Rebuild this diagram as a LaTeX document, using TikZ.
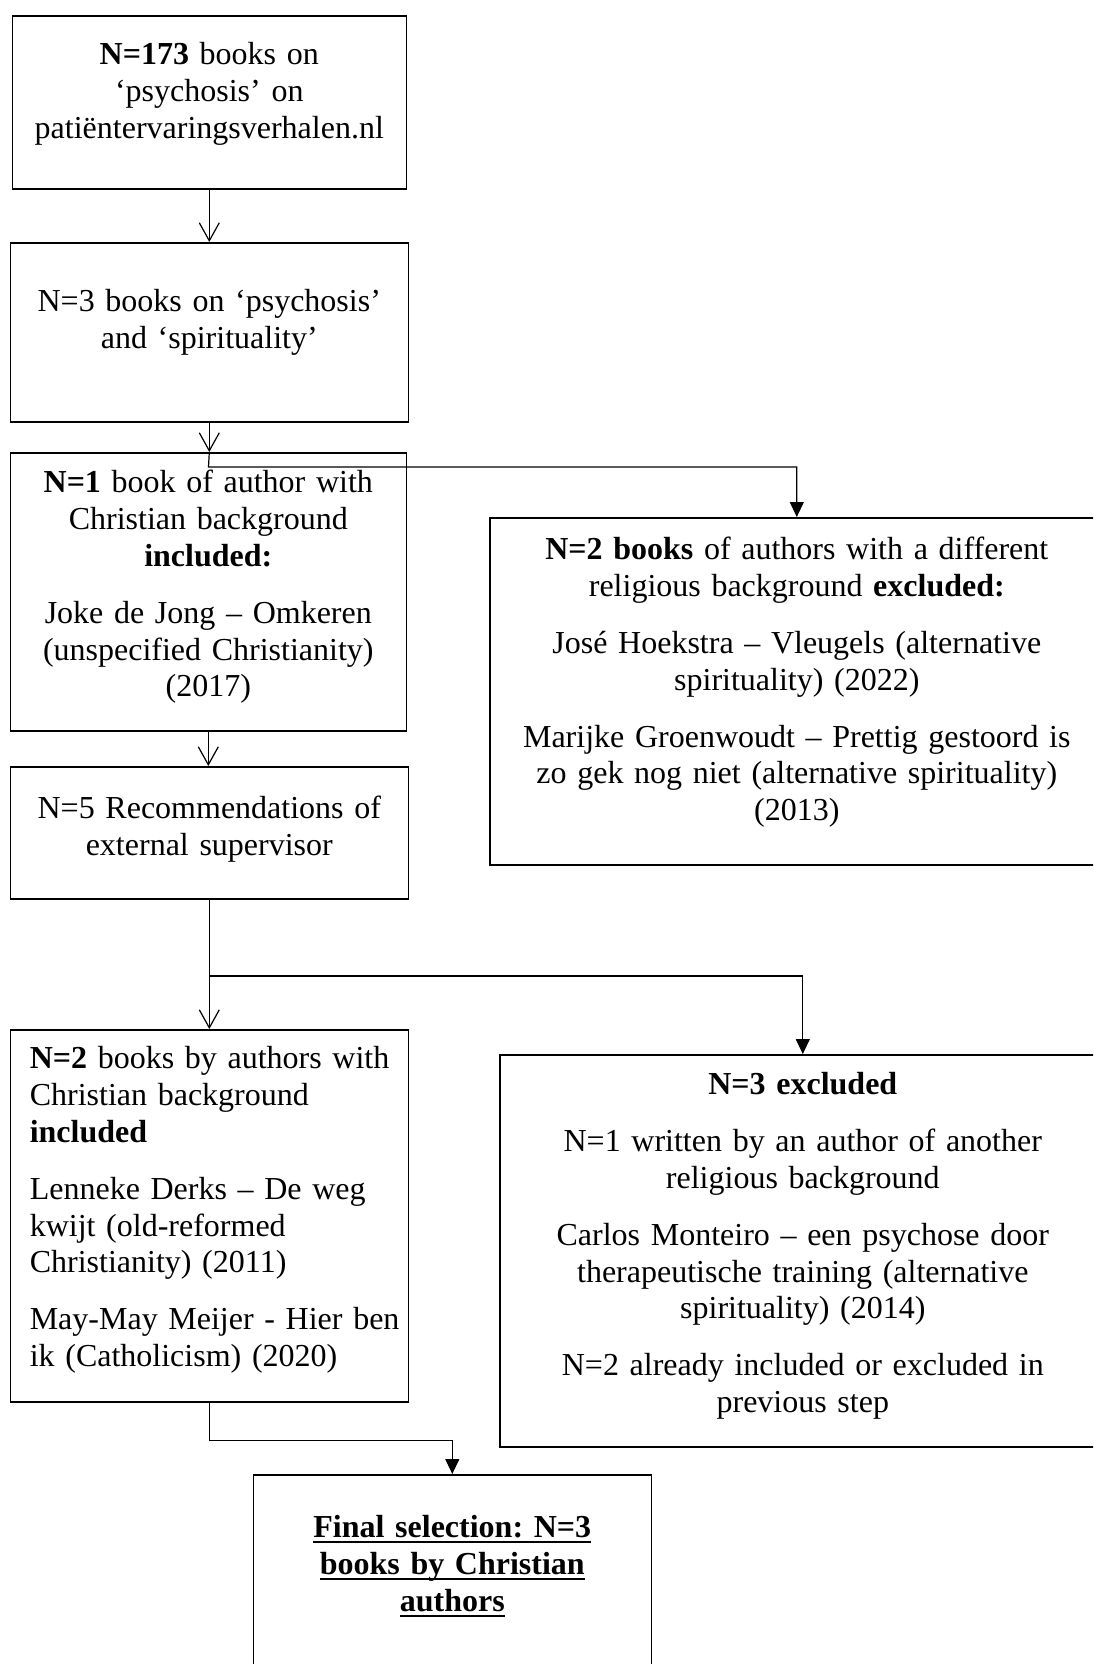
\documentclass[tikz,border=0pt]{standalone}
\usepackage{fontspec}
\setmainfont{Liberation Serif}
\usetikzlibrary{arrows.meta, positioning}

% thick underline for the final box
\newcommand{\finalul}[1]{\setbox0\hbox{#1}\leavevmode\rlap{\rule[-2.7pt]{\wd0}{1.1pt}}\box0}

\begin{document}
\begin{tikzpicture}[
    x=0.5pt, y=-0.5pt,
    font={\fontsize{16}{18.4}\selectfont\frenchspacing\spaceskip=3.3pt\relax},
    flow box/.style={draw, line width=0.8pt, anchor=north west, align=center,
      inner xsep=10pt, inner ysep=0pt},
    down arrow/.style={draw, line width=0.6pt, -{Straight Barb[length=9pt,width=10pt]}},
    side arrow/.style={draw, line width=0.6pt, -{Triangle[length=7.5pt,width=7pt]}}
  ]
  \clip (0,0) rectangle (1093,1664);

  % left column
  \node[flow box, text width=177pt, text height=24.5pt, text depth=62pt] (found) at (11.5,15)
    {\textbf{N=173} books on\\ ‘psychosis’ on\\ patiëntervaringsverhalen.nl};
  \node[flow box, text width=179pt, text height=34.5pt, text depth=55pt] (spirit) at (9.5,242)
    {N=3 books on ‘psychosis’\\ and ‘spirituality’};
  \node[flow box, text width=178pt, text height=20pt, text depth=119pt] (incl1) at (9.5,452)
    {\textbf{N=1} book of author with\\ Christian background\\ \textbf{included:}\\[10pt]
     Joke de Jong – Omkeren\\ (unspecified Christianity)\\ (2017)};
  \node[flow box, text width=179pt, text height=26pt, text depth=40pt] (advice) at (9.5,766)
    {N=5 Recommendations of\\ external supervisor};
  \node[flow box, align=left, inner xsep=0pt, text width=199pt, text height=19.5pt, text depth=166.5pt] (incl2) at (9.5,1029)
    {\leftskip=9.75pt\relax
     \textbf{N=2} books by authors with\\ Christian background\\ \textbf{included}\\[10pt]
     Lenneke Derks – De weg\\ kwijt (old-reformed\\ Christianity) (2011)\\[10pt]
     May-May Meijer - Hier ben\\ ik (Catholicism) (2020)\par};

  % right column
  \node[flow box, text width=287pt, text height=21pt, text depth=152.5pt] (excl1) at (489,517)
    {\textbf{N=2 books} of authors with a different\\ religious background \textbf{excluded:}\\[10pt]
     José Hoekstra – Vleugels (alternative\\ spirituality) (2022)\\[10pt]
     Marijke Groenwoudt – Prettig gestoord is\\ zo gek nog niet (alternative spirituality)\\ (2013)};
  \node[flow box, text width=283pt, text height=20pt, text depth=176pt] (excl2) at (499,1054)
    {\textbf{N=3 excluded}\\[10pt]
     N=1 written by an author of another\\ religious background\\[10pt]
     Carlos Monteiro – een psychose door\\ therapeutische training (alternative\\ spirituality) (2014)\\[10pt]
     N=2 already included or excluded in\\ previous step};

  % final
  \node[flow box, text width=179pt, text height=31.5pt, text depth=71.5pt] (final) at (252.5,1474)
    {\bfseries\finalul{Final selection: N=3}\\ \finalul{books by Christian}\\ \finalul{authors}};

  \coordinate (splitA) at (208.5,467);
  \coordinate (splitB) at (208.5,976);

  \draw[down arrow] (found.south) -- (spirit.north);
  \draw[down arrow] (spirit.south) -- (spirit.south |- incl1.north);
  \draw[down arrow] (incl1.south) -- (incl1.south |- advice.north);
  \draw[down arrow] (advice.south) -- (incl2.north);
  \draw[side arrow] (spirit.south |- incl1.north) -- (splitA) -| (excl1.north);
  \draw[side arrow] (splitB) -| (excl2.north);
  \draw[side arrow] (incl2.south) -- ++(0,38) -| (final.north);
\end{tikzpicture}
\end{document}
